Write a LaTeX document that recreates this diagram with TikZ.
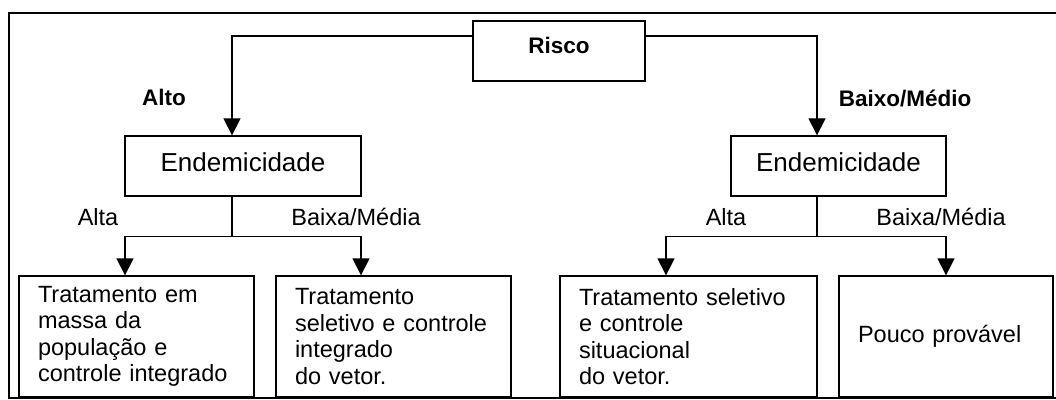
\documentclass[tikz,border=0pt]{standalone}
\usepackage{fontspec}
\setmainfont{Liberation Sans}
\usepackage{xcolor}
\usepackage{tikz}
\usetikzlibrary{calc,arrows.meta}
\definecolor{ink}{HTML}{000000}
\definecolor{paper}{HTML}{FFFFFF}
\tikzset{
  frame/.style={draw=ink, line width=1.8pt},
  box/.style={draw=ink, line width=1.3pt, fill=paper, inner sep=0pt},
  risk/.style={box, minimum width=172pt, minimum height=60pt, text depth=12pt, font=\bfseries\fontsize{22.5}{26}\selectfont},
  ende/.style={box, minimum height=60pt, text depth=8pt, font=\fontsize{26}{30}\selectfont},
  treat/.style={box, minimum height=121pt, inner xsep=19pt, align=left, font=\fontsize{23.5}{26.5}\selectfont},
  line/.style={draw=ink, line width=1.3pt},
  arr/.style={line, -{Triangle[width=17pt,length=17pt]}},
  lab/.style={text=ink, inner sep=0pt, font=\fontsize{23.5}{26}\selectfont},
  labb/.style={text=ink, inner sep=0pt, font=\bfseries\fontsize{22.5}{26}\selectfont},
}
\begin{document}
\begin{tikzpicture}[x=1pt,y=1pt]
  \useasboundingbox (0,0) rectangle (1056,399);
  \clip (0,0) rectangle (1056,399);
  \draw[frame] (9,386) rectangle (1080,1);

  \node[risk] (risco) at (559,348) {Risco};
  \node[ende, minimum width=236pt] (endA) at (243,233) {Endemicidade};
  \node[ende, minimum width=215pt] (endB) at (838.5,233) {Endemicidade};

  \node[treat, text width=197pt] (trA) at (136.5,62.5) {Tratamento em\\massa da\\população e\\controle integrado};
  \node[treat, text width=197pt] (trB) at (393.5,62.5) {Tratamento\\seletivo e controle\\integrado\\do vetor.};
  \node[treat, text width=219pt] (trC) at (688.5,62.5) {Tratamento seletivo\\e controle\\situacional\\do vetor.};
  \node[treat, text width=176pt] (trD) at (946,62.5) {Pouco provável\\[20pt]};

  \draw[arr] ([yshift=15]risco.west) -| ([xshift=-11]endA.north);
  \draw[arr] ([yshift=15]risco.east) -| ([xshift=-21.5]endB.north);
  \node[labb] (alto) at (164,302) {Alto};
  \node[labb] (baixo) at (905,301) {Baixo/Médio};

  \coordinate (splitA) at ($(endA.south)+(-11,-40)$);
  \draw[line] ([xshift=-11]endA.south) -- (splitA);
  \draw[arr] (splitA) -| ([xshift=-11.5]trA.north);
  \draw[arr] (splitA) -| ([xshift=-32.5]trB.north);
  \node[lab] (altaA) at (98,182) {Alta};
  \node[lab] (baixaA) at (356,182) {Baixa/Média};

  \coordinate (splitB) at ($(endB.south)+(-21.5,-40)$);
  \draw[line] ([xshift=-21.5]endB.south) -- (splitB);
  \draw[arr] (splitB) -| ([xshift=-22.5]trC.north);
  \draw[arr] (splitB) -| (trD.north);
  \node[lab] (altaB) at (726,182) {Alta};
  \node[lab] (baixaB) at (941,182) {Baixa/Média};
\end{tikzpicture}
\end{document}
